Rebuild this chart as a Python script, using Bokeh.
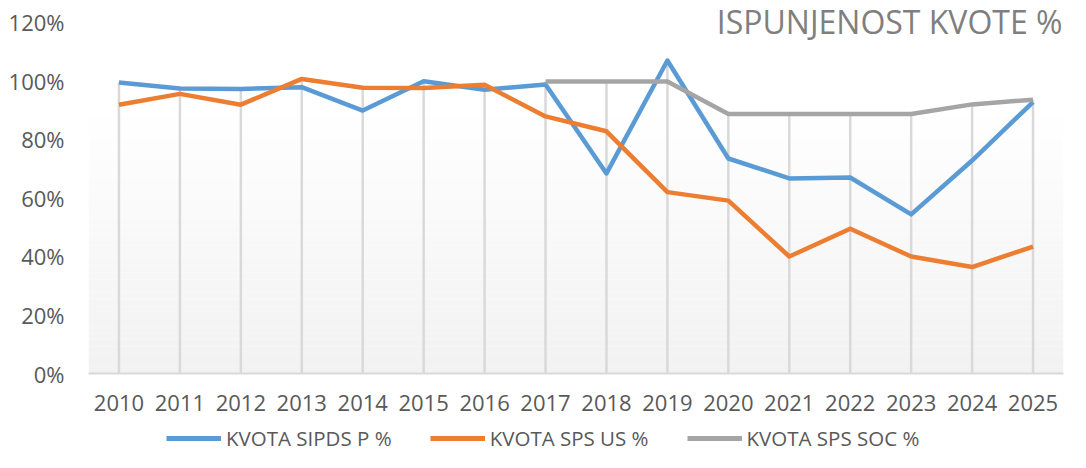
from bokeh.plotting import figure
from bokeh.layouts import column
from bokeh.models import (Legend, LegendItem, Label, BoxAnnotation,
                          PrintfTickFormatter, FixedTicker, Range1d)
from bokeh.embed import file_html
from bokeh.resources import INLINE

years = [str(y) for y in range(2010, 2026)]
sipds_p = [99.5, 97.4, 97.3, 97.9, 89.9, 99.9, 97.0, 98.8, 68.4, 107.0, 73.5, 66.7, 67.0, 54.4, 72.8, 92.8]
sps_us = [91.9, 95.6, 91.9, 100.7, 97.7, 97.6, 98.7, 87.9, 82.8, 62.0, 59.1, 40.0, 49.5, 40.0, 36.4, 43.4]
soc_years = [str(y) for y in range(2017, 2026)]
sps_soc = [99.8, 99.8, 99.8, 88.7, 88.7, 88.7, 88.7, 92.0, 93.6]
y_ticks = [0, 20, 40, 60, 80, 100, 120]
series_names = ["KVOTA SIPDS P %", "KVOTA SPS US %", "KVOTA SPS SOC %"]
colors = ["#5B9BD5", "#ED7D31", "#A5A5A5"]

FONT = "Open Sans"
TXT = "#595959"

# frame: 88..1063 horizontally, 4..373 vertically (120% sits at y=22)
p = figure(width=1070, height=424, x_range=years, y_range=(0, 126.15),
           output_backend="svg", toolbar_location=None,
           min_border_left=88, min_border_right=7, min_border_top=4, min_border_bottom=51)
p.outline_line_color = None
p.background_fill_color = "white"
p.border_fill_color = "white"
p.xgrid.grid_line_color = None
p.ygrid.grid_line_color = None

# subtle vertical gradient of plot area
n = 40
top_level = 92.0
for i in range(n):
    b = top_level * i / n
    t = top_level * (i + 1) / n
    c = int(round(242 + (255 - 242) * (i + 0.5) / n))
    p.add_layout(BoxAnnotation(bottom=b, top=t, fill_color=(c, c, c), fill_alpha=1.0,
                               line_alpha=0, level="underlay"))

# drop lines
soc_map = dict(zip(soc_years, sps_soc))
tops = [max(a, b, soc_map.get(y, 0)) for y, a, b in zip(years, sipds_p, sps_us)]
p.segment(x0=years, y0=[0] * len(years), x1=years, y1=tops, line_color="#d9d9d9", line_width=2.5)

series = [(years, sipds_p), (years, sps_us), (soc_years, sps_soc)]
for (xs, ys), col in zip(series, colors):
    p.line(xs, ys, line_color=col, line_width=4.5, line_join="round")

p.yaxis.ticker = FixedTicker(ticks=y_ticks)
p.yaxis.formatter = PrintfTickFormatter(format="%d%%")
for ax in (p.xaxis[0], p.yaxis[0]):
    ax.major_tick_line_color = None
    ax.minor_tick_line_color = None
    ax.major_tick_out = 0
    ax.major_tick_in = 0
    ax.minor_tick_out = 0
    ax.major_label_text_font = FONT
    ax.major_label_text_font_size = "22px"
    ax.major_label_text_color = TXT
p.yaxis.axis_line_color = None
p.yaxis.major_label_standoff = 24
p.xaxis.axis_line_color = "#d9d9d9"
p.xaxis.axis_line_width = 2
p.xaxis.major_label_standoff = 21

p.add_layout(Label(x=974, y=352, x_units="screen", y_units="screen",
                   text="ISPUNJENOST KVOTE %", text_font=FONT, text_font_size="32px",
                   text_color="#7f7f7f", text_align="right", text_baseline="middle"))

# legend strip (series drawn out of view so only the legend shows)
p2 = figure(width=1070, height=28, x_range=years, y_range=Range1d(1000, 1001),
            x_axis_type=None, y_axis_type=None,
            output_backend="svg", toolbar_location=None, min_border=0)
p2.outline_line_color = None
p2.xgrid.grid_line_color = None
p2.ygrid.grid_line_color = None
items = []
for name, (xs, ys), col in zip(series_names, series, colors):
    r = p2.line(xs, ys, line_color=col, line_width=5)
    items.append(LegendItem(label=name, renderers=[r]))
legend = Legend(items=items, orientation="horizontal", location=(78, 0),
                glyph_width=55, glyph_height=24, label_standoff=5, spacing=38,
                padding=0, margin=0, border_line_color=None, background_fill_alpha=0,
                label_text_font=FONT, label_text_font_size="20.5px", label_text_color=TXT)
p2.add_layout(legend)

open("out.html", "w").write(file_html(column(p, p2, spacing=0), INLINE))
